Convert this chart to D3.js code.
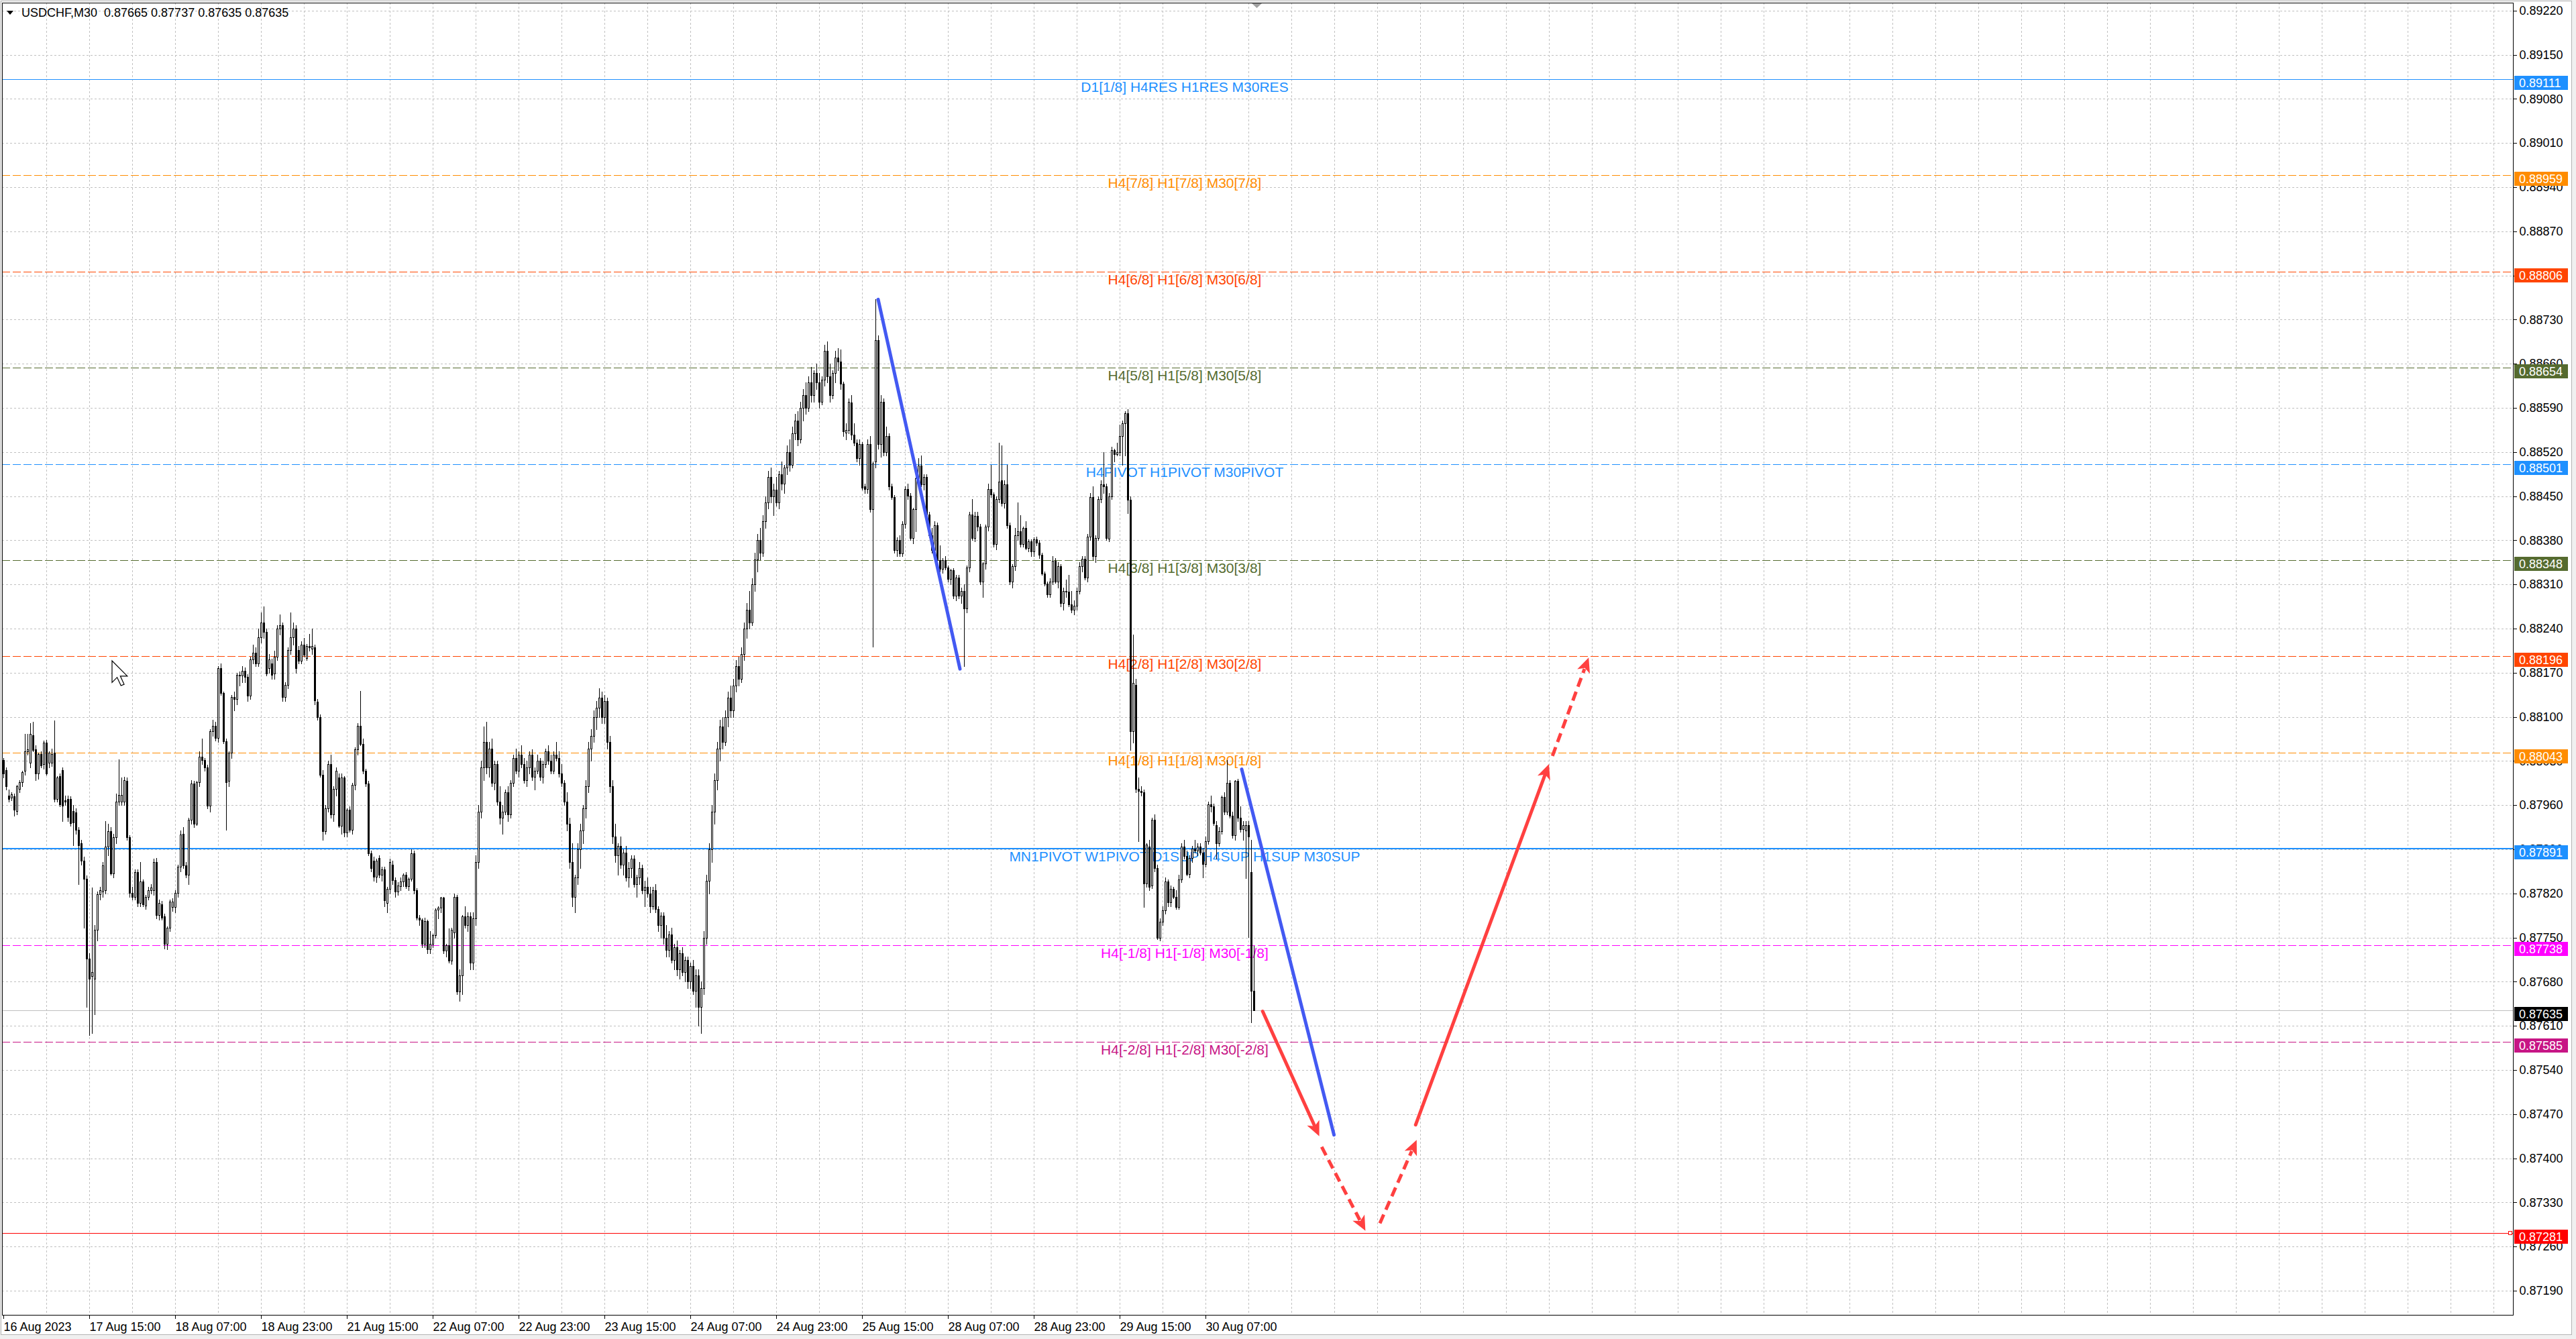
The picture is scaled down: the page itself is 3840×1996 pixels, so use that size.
<!DOCTYPE html>
<html>
<head>
<meta charset="utf-8">
<script src="https://cdn.jsdelivr.net/npm/d3@7/dist/d3.min.js"></script>
<style>
html,body{margin:0;padding:0;background:#fff;overflow:hidden;}
svg{display:block;}
text{font-family:"Liberation Sans",Arial,sans-serif;}
</style>
</head>
<body>
<svg id="chart" width="3840" height="1996"></svg>
<script>
// ================= DATA =================
const symbolName = "USDCHF,M30";
const lastOHLC = ["0.87665", "0.87737", "0.87635", "0.87635"];
const bidPrice = 0.87635;

const timeLabels = ["16 Aug 2023", "17 Aug 15:00", "18 Aug 07:00", "18 Aug 23:00", "21 Aug 15:00",
  "22 Aug 07:00", "22 Aug 23:00", "23 Aug 15:00", "24 Aug 07:00", "24 Aug 23:00",
  "25 Aug 15:00", "28 Aug 07:00", "28 Aug 23:00", "29 Aug 15:00", "30 Aug 07:00"];
const timeLabelBars = [0, 32, 64, 96, 128, 160, 192, 224, 256, 288, 320, 352, 384, 416, 448];

const priceTicks = [0.87190, 0.87260, 0.87330, 0.87400, 0.87470, 0.87540, 0.87610, 0.87680, 0.87750, 0.87820,
  0.87890, 0.87960, 0.88030, 0.88100, 0.88170, 0.88240, 0.88310, 0.88380, 0.88450, 0.88520,
  0.88590, 0.88660, 0.88730, 0.88800, 0.88870, 0.88940, 0.89010, 0.89080, 0.89150, 0.89220];

const levelPrices = [0.89111, 0.88959, 0.88806, 0.88654, 0.88501, 0.88348, 0.88196, 0.88043, 0.87891, 0.87738, 0.87585, 0.87281];
const levelTexts = ["D1[1/8] H4RES H1RES M30RES", "H4[7/8] H1[7/8] M30[7/8]", "H4[6/8] H1[6/8] M30[6/8]",
  "H4[5/8] H1[5/8] M30[5/8]", "H4PIVOT H1PIVOT M30PIVOT", "H4[3/8] H1[3/8] M30[3/8]",
  "H4[2/8] H1[2/8] M30[2/8]", "H4[1/8] H1[1/8] M30[1/8]", "MN1PIVOT W1PIVOT D1SUP H4SUP H1SUP M30SUP",
  "H4[-1/8] H1[-1/8] M30[-1/8]", "H4[-2/8] H1[-2/8] M30[-2/8]", ""];

// trend lines: [startBar, startPrice, endBar, endPrice]
const trendStartBars = [326.0, 461.5];
const trendStartPrices = [0.88762, 0.88017];
const trendEndBars = [356.5, 495.9];
const trendEndPrices = [0.88176, 0.87437];

// forecast arrows
const arrowStartBars = [469.3, 491.3, 513.0, 526.3, 577.3];
const arrowStartPrices = [0.87633, 0.87418, 0.87297, 0.87453, 0.88038];
const arrowEndBars = [490.4, 507.6, 526.7, 576.0, 590.8];
const arrowEndPrices = [0.87435, 0.87285, 0.87429, 0.88025, 0.88194];
const arrowDashed = [false, true, true, false, true];

// candles: [open, high, low, close] in points (0.00001) above priceBase; first bar 16 Aug 23:00, M30
const priceBase = 0.87;
const day16Aug = [[1031,1035,1004,1010],[1016,1020,985,990]];
const day17Aug = [
[975,985,965,970],[972,980,968,977],[974,978,943,953],[951,992,945,990],[986,1000,980,996],[996,1015,990,1012],[1014,1073,1008,1045],[1045,1073,1040,1049],
[1027,1090,1020,1073],[1071,1092,1045,1047],[1049,1055,1000,1010],[1010,1043,1002,1041],[1041,1045,1020,1023],[1025,1062,1018,1059],[1059,1063,1008,1010],[1027,1045,1020,1043],
[1027,1050,1022,1041],[1043,1094,966,970],[970,1006,965,1004],[1006,1010,958,961],[1016,1020,935,959],[968,975,960,966],[970,975,935,941],[970,974,927,931],
[951,960,896,933],[949,955,915,921],[921,925,835,896],[900,905,865,872],[872,878,766,843],[843,848,640,717],[717,725,595,685],[689,829,598,695],
[685,770,628,762],[762,823,745,819],[819,830,810,825],[823,870,815,864],[825,935,820,894],[894,930,880,919],[919,925,850,852],[852,915,845,909],
[909,978,900,966],[966,1033,960,976],[966,1004,960,976],[966,1005,960,1000],[998,1004,905,909],[909,912,815,821],[821,830,810,815],[815,858,810,854]];
const day18Aug = [
[854,858,800,805],[805,870,800,839],[839,842,800,803],[801,818,795,815],[815,830,810,825],[825,835,820,829],[825,875,818,870],[870,876,780,786],
[786,810,778,805],[803,808,778,782],[784,788,733,740],[740,768,731,766],[766,810,760,807],[799,812,792,807],[799,825,790,821],[821,866,815,862],
[862,920,855,913],[915,925,860,864],[864,870,845,850],[850,940,835,937],[937,1000,930,994],[994,998,925,930],[930,998,928,996],[996,1045,990,1037],
[1037,1065,1025,1031],[1031,1035,1015,1020],[1020,1024,955,959],[959,1080,950,1077],[1077,1095,1070,1086],[1086,1092,1062,1067],[1067,1180,1060,1177],[1177,1185,1135,1138],
[1138,1140,1058,1061],[1061,1065,921,996],[998,1045,990,1043],[1043,1135,1035,1132],[1132,1140,1110,1128],[1128,1170,1120,1167],[1167,1172,1150,1165],[1165,1180,1155,1173],
[1173,1178,1155,1163],[1163,1168,1125,1134],[1134,1195,1128,1191],[1191,1215,1185,1202],[1202,1210,1180,1185],[1185,1240,1180,1226],[1226,1265,1218,1250],[1250,1275,1225,1235]];
const day21Aug = [
[1235,1240,1165,1169],[1177,1200,1170,1191],[1185,1192,1160,1167],[1169,1205,1160,1195],[1195,1245,1190,1240],[1240,1262,1230,1245],[1245,1250,1125,1132],[1132,1155,1125,1151],
[1151,1210,1145,1206],[1206,1265,1200,1226],[1226,1250,1215,1240],[1240,1245,1170,1177],[1206,1212,1185,1189],[1189,1220,1185,1215],[1214,1225,1195,1198],[1193,1216,1190,1212],
[1212,1232,1205,1210],[1208,1240,1200,1212],[1210,1215,1120,1126],[1124,1128,1095,1100],[1100,1104,1005,1008],[1008,1016,905,919],[919,960,914,955],[955,1030,950,1025],
[1025,1040,940,945],[945,990,935,986],[986,1020,975,1014],[1004,1010,925,927],[927,1010,915,1004],[1004,1006,910,917],[917,955,910,953],[953,958,918,921],
[921,995,915,992],[992,1052,985,1049],[1049,1090,1040,1086],[1086,1141,1055,1057],[1057,1065,1010,1014],[1014,1018,990,994],[994,998,880,884],[884,888,855,860],
[872,878,840,846],[846,875,838,872],[876,880,845,850],[850,862,840,858],[858,862,800,809],[805,830,790,827],[827,875,820,870],[866,872,835,841]];
const day22Aug = [
[841,845,815,823],[823,838,818,833],[831,845,825,839],[839,852,832,850],[850,854,828,831],[831,845,825,843],[843,890,840,884],[884,888,820,825],
[825,828,778,782],[782,786,770,778],[778,780,735,740],[740,782,735,776],[776,778,725,731],[731,760,725,740],[740,756,735,754],[754,796,750,794],
[794,800,780,797],[797,815,790,813],[813,815,725,729],[729,740,720,738],[738,764,710,713],[713,765,708,762],[758,820,750,815],[815,818,660,664],
[664,700,650,690],[690,786,660,784],[784,800,765,770],[770,790,760,784],[784,790,700,710],[710,790,700,780],[780,880,770,870],[870,960,860,950],
[950,1030,940,1020],[1020,1085,1000,1060],[1060,1092,1010,1020],[1020,1060,1005,1050],[1050,1065,990,995],[995,1030,985,1025],[1025,1030,960,965],[965,990,930,940],
[940,960,915,950],[950,985,945,980],[980,990,935,945],[945,1000,940,995],[995,1040,990,1035],[1035,1050,1010,1015],[1015,1045,1005,1040],[1040,1055,1020,1025]];
const day23Aug = [
[1025,1035,995,1000],[1000,1030,990,1020],[1020,1045,1010,1040],[1040,1048,1000,1005],[1005,1020,985,1015],[1015,1040,1010,1030],[1030,1035,1000,1005],[1005,1030,995,1025],
[1025,1050,1020,1045],[1045,1055,1025,1030],[1030,1040,1010,1015],[1015,1045,1010,1040],[1040,1060,1030,1035],[1035,1045,1005,1010],[1010,1025,990,995],[995,1000,960,965],
[965,980,920,930],[930,940,860,870],[870,900,800,815],[815,850,790,845],[845,900,835,890],[890,930,860,920],[920,960,900,955],[955,1000,940,990],
[990,1060,980,1050],[1050,1080,1030,1070],[1070,1110,1060,1100],[1100,1125,1080,1115],[1115,1145,1100,1130],[1130,1140,1090,1100],[1100,1135,1090,1125],[1125,1130,1050,1060],
[1060,1070,980,990],[990,1000,900,910],[910,930,870,880],[880,900,850,895],[895,910,860,865],[865,890,850,885],[885,895,840,845],[845,870,830,860],
[860,880,845,875],[875,880,830,835],[835,850,815,845],[845,870,835,860],[860,865,820,825],[825,840,800,830],[830,845,815,820],[820,830,790,800]];
const day24Aug = [
[800,830,795,825],[825,835,790,795],[795,800,760,770],[770,790,750,785],[785,790,740,750],[750,770,720,730],[730,760,720,755],[755,765,710,715],
[715,740,700,735],[735,745,690,700],[700,730,685,725],[725,735,690,695],[695,720,680,715],[715,720,670,680],[680,710,670,705],[705,715,660,665],
[665,700,640,690],[690,700,610,640],[640,680,598,670],[670,760,660,750],[750,850,740,840],[840,900,820,890],[890,960,870,950],[950,1010,930,1000],
[1000,1060,985,1050],[1050,1095,1030,1085],[1085,1100,1050,1060],[1060,1110,1055,1100],[1100,1140,1085,1130],[1130,1150,1100,1110],[1110,1160,1100,1150],[1150,1190,1140,1180],
[1180,1195,1150,1160],[1160,1210,1155,1200],[1200,1250,1190,1240],[1240,1280,1225,1270],[1270,1300,1240,1250],[1250,1320,1245,1310],[1310,1360,1300,1350],[1350,1390,1330,1380],
[1380,1400,1350,1360],[1360,1420,1355,1410],[1410,1450,1400,1440],[1440,1490,1430,1480],[1480,1495,1440,1450],[1450,1470,1420,1460],[1460,1480,1435,1440],[1440,1490,1430,1485]];
const day25Aug = [
[1485,1505,1460,1470],[1470,1500,1455,1495],[1495,1530,1485,1520],[1520,1540,1490,1500],[1500,1560,1495,1550],[1550,1580,1540,1570],[1570,1585,1530,1540],[1540,1600,1535,1590],
[1590,1620,1570,1610],[1610,1630,1580,1590],[1590,1640,1585,1630],[1630,1655,1600,1610],[1610,1650,1600,1645],[1645,1660,1620,1630],[1630,1645,1590,1600],[1600,1640,1595,1635],
[1635,1690,1625,1680],[1680,1695,1630,1640],[1640,1660,1600,1610],[1610,1650,1605,1645],[1645,1680,1630,1670],[1670,1685,1650,1663],[1663,1683,1620,1628],[1628,1632,1545,1553],
[1551,1565,1540,1555],[1555,1605,1550,1600],[1598,1610,1540,1547],[1547,1565,1530,1535],[1535,1540,1505,1510],[1510,1540,1500,1533],[1533,1536,1460,1463],[1465,1470,1455,1461],
[1461,1540,1455,1533],[1533,1545,1425,1429],[1429,1505,1211,1502],[1505,1762,1495,1697],[1697,1705,1525,1533],[1533,1610,1512,1600],[1600,1605,1515,1520],[1520,1560,1515,1545],
[1545,1550,1460,1465],[1465,1470,1445,1449],[1449,1452,1360,1364],[1364,1385,1355,1380],[1380,1388,1355,1359],[1359,1410,1355,1406],[1406,1465,1400,1461],[1461,1470,1445,1451]];
const day28Aug = [
[1451,1455,1380,1384],[1384,1432,1375,1429],[1429,1480,1394,1478],[1478,1510,1470,1498],[1498,1515,1465,1469],[1469,1485,1460,1480],[1480,1485,1415,1421],[1421,1425,1385,1388],
[1388,1400,1360,1364],[1364,1410,1358,1404],[1404,1408,1345,1349],[1349,1372,1330,1335],[1335,1352,1328,1349],[1349,1355,1334,1337],[1337,1340,1315,1319],[1319,1335,1310,1333],
[1333,1336,1288,1292],[1292,1325,1285,1321],[1321,1325,1288,1292],[1292,1305,1280,1300],[1300,1310,1180,1272],[1272,1340,1265,1337],[1337,1425,1330,1421],[1421,1445,1380,1384],
[1384,1425,1378,1419],[1419,1425,1395,1402],[1402,1406,1310,1315],[1315,1345,1290,1343],[1343,1405,1335,1402],[1402,1470,1395,1461],[1461,1500,1448,1453],[1453,1456,1370,1374],
[1374,1450,1365,1445],[1445,1535,1440,1473],[1475,1530,1435,1439],[1439,1475,1432,1469],[1469,1500,1400,1404],[1404,1408,1310,1315],[1315,1342,1305,1339],[1339,1400,1333,1388],
[1388,1440,1380,1394],[1394,1420,1370,1374],[1374,1402,1370,1400],[1400,1410,1365,1368],[1368,1382,1362,1378],[1378,1382,1355,1362],[1362,1385,1355,1382],[1382,1386,1372,1376]];
const day29Aug = [
[1376,1380,1352,1357],[1357,1360,1325,1327],[1327,1330,1308,1311],[1311,1315,1290,1294],[1294,1320,1290,1315],[1315,1355,1310,1347],[1347,1352,1312,1315],[1315,1345,1305,1339],
[1339,1342,1275,1280],[1280,1305,1270,1300],[1300,1318,1290,1298],[1298,1325,1275,1278],[1278,1300,1265,1270],[1270,1285,1262,1276],[1276,1305,1270,1300],[1300,1345,1295,1339],
[1339,1355,1330,1351],[1351,1355,1318,1321],[1321,1390,1315,1386],[1386,1455,1380,1449],[1449,1465,1350,1355],[1355,1388,1345,1384],[1384,1450,1380,1445],[1445,1475,1440,1469],
[1469,1520,1455,1465],[1465,1470,1380,1384],[1383,1455,1378,1450],[1450,1528,1445,1523],[1523,1525,1505,1517],[1517,1535,1515,1520],[1520,1563,1515,1545],[1545,1570,1500,1566],
[1566,1585,1515,1581],[1581,1588,1423,1444],[1444,1450,1047,1077],[1077,1230,1059,1154],[1151,1160,980,986],[986,1004,903,983],[983,990,975,980],[980,985,799,836],
[836,900,830,897],[894,905,825,830],[833,940,828,937],[937,945,855,860],[860,865,747,750],[750,780,745,775],[775,800,770,793],[793,845,788,839]];
const day30Aug = [
[839,842,800,806],[806,833,800,827],[827,830,812,815],[815,825,795,799],[799,850,795,842],[842,900,838,894],[894,905,875,879],[879,888,848,851],
[851,880,845,876],[876,895,870,891],[891,905,885,888],[888,900,880,894],[894,900,882,885],[885,892,845,867],[867,910,862,903],[903,965,898,961],
[961,975,950,958],[958,962,928,931],[928,935,875,900],[900,925,895,919],[919,975,915,973],[973,980,945,950],[950,1032,945,995],[995,1000,940,943],
[943,950,908,912],[912,1000,905,998],[998,1002,935,940],[940,958,918,922],[922,935,905,928],[920,935,844,928],[928,935,751,910],[854,905,616,666],
[665,737,635,635]];

// ================= RENDER =================
const svg = d3.select("#chart");
const W = 3840, H = 1996;
const plotLeft = 3, plotTop = 4, plotRight = 3746, plotBottom = 1960;

const pt = 0.00001;
const candles = [].concat(day16Aug, day17Aug, day18Aug, day21Aug, day22Aug, day23Aug, day24Aug, day25Aug, day28Aug, day29Aug, day30Aug)
  .map((r, i) => ({ i, o: priceBase + r[0] * pt, h: priceBase + r[1] * pt, l: priceBase + r[2] * pt, c: priceBase + r[3] * pt }));

const x = d3.scaleLinear().domain([0, 935]).range([5, 3745]);
const y = d3.scaleLinear().domain([0.87190, 0.89220]).range([1924, 15.8]);

const levelColors = ["#1E90FF", "#FF8C00", "#FF4500", "#556B2F", "#1E90FF", "#556B2F", "#FF4500", "#FF8C00", "#1E90FF", "#FF00FF", "#C71585", "#FF0000"];
const levelDashed = [false, true, true, true, true, true, true, true, false, true, true, false];
const levelWidths = [1, 1, 1, 1, 1, 1, 1, 1, 2, 1, 1, 1];

// window background
svg.append("rect").attr("width", W).attr("height", H).attr("fill", "#f0f0f0");
svg.append("rect").attr("x", 1.5).attr("y", 1.5).attr("width", 3832).attr("height", 1988)
  .attr("fill", "#ffffff").attr("stroke", "#b4b4b4");

// grid
const grid = svg.append("g").attr("stroke", "#c0c0c0").attr("stroke-dasharray", "3,3").attr("shape-rendering", "crispEdges");
grid.selectAll("line.h").data(priceTicks).join("line")
  .attr("x1", plotLeft).attr("x2", plotRight)
  .attr("y1", d => Math.round(y(d)) + 0.5).attr("y2", d => Math.round(y(d)) + 0.5);
const vBars = d3.range(16, 935, 16).filter(b => x(b) < plotRight - 2);
grid.selectAll("line.v").data(vBars).join("line")
  .attr("x1", d => Math.round(x(d)) + 0.5).attr("x2", d => Math.round(x(d)) + 0.5)
  .attr("y1", plotTop).attr("y2", plotBottom);

// level lines
const lv = svg.append("g").attr("shape-rendering", "crispEdges");
levelPrices.forEach((p, k) => {
  const yy = levelWidths[k] === 2 ? Math.round(y(p)) : Math.round(y(p)) + 0.5;
  lv.append("line").attr("x1", plotLeft).attr("x2", plotRight).attr("y1", yy).attr("y2", yy)
    .attr("stroke", levelColors[k]).attr("stroke-width", levelWidths[k])
    .attr("stroke-dasharray", levelDashed[k] ? "12,4" : null);
});
// bid line
lv.append("line").attr("x1", plotLeft).attr("x2", plotRight)
  .attr("y1", Math.round(y(bidPrice)) + 0.5).attr("y2", Math.round(y(bidPrice)) + 0.5)
  .attr("stroke", "#c0c0c0").attr("stroke-width", 1);

// level texts
const labelBar = 440.25;
const lt = svg.append("g").attr("font-size", 21).attr("text-anchor", "middle");
levelPrices.forEach((p, k) => {
  if (!levelTexts[k]) return;
  lt.append("text").attr("x", x(labelBar)).attr("y", y(p) + 19).attr("fill", levelColors[k]).text(levelTexts[k]);
});

// candles
const cg = svg.append("g").attr("shape-rendering", "crispEdges");
cg.selectAll("line.wick").data(candles).join("line")
  .attr("x1", d => Math.round(x(d.i)) + 0.5).attr("x2", d => Math.round(x(d.i)) + 0.5)
  .attr("y1", d => Math.round(y(d.h))).attr("y2", d => Math.round(y(d.l)) + 1)
  .attr("stroke", "#000");
candles.forEach(d => {
  const cx = Math.round(x(d.i));
  const top = Math.round(y(Math.max(d.o, d.c)));
  const bot = Math.round(y(Math.min(d.o, d.c)));
  if (d.c < d.o) {
    cg.append("rect").attr("x", cx - 1).attr("y", top).attr("width", 3).attr("height", Math.max(1, bot - top + 1)).attr("fill", "#000");
  } else if (d.c > d.o && bot - top >= 2) {
    cg.append("rect").attr("x", cx - 0.5).attr("y", top + 0.5).attr("width", 2).attr("height", bot - top)
      .attr("fill", "#fff").attr("stroke", "#000");
  } else {
    cg.append("line").attr("x1", cx - 1).attr("x2", cx + 2).attr("y1", top + 0.5).attr("y2", top + 0.5).attr("stroke", "#000");
  }
});

// trend lines
const tg = svg.append("g");
trendStartBars.forEach((b, k) => {
  tg.append("line")
    .attr("x1", x(b)).attr("y1", y(trendStartPrices[k]))
    .attr("x2", x(trendEndBars[k])).attr("y2", y(trendEndPrices[k]))
    .attr("stroke", "#4359F2").attr("stroke-width", 5).attr("stroke-linecap", "round");
});

// forecast arrows
const ag = svg.append("g");
arrowStartBars.forEach((b, k) => {
  const x1 = x(b), y1 = y(arrowStartPrices[k]), x2 = x(arrowEndBars[k]), y2 = y(arrowEndPrices[k]);
  const len = Math.hypot(x2 - x1, y2 - y1), ux = (x2 - x1) / len, uy = (y2 - y1) / len;
  const headL = 22, headW = 10;
  const bx = x2 - ux * headL, by = y2 - uy * headL;
  ag.append("line").attr("x1", x1).attr("y1", y1).attr("x2", bx + ux * 4).attr("y2", by + uy * 4)
    .attr("stroke", "#FF4040").attr("stroke-width", 5)
    .attr("stroke-linecap", arrowDashed[k] ? "butt" : "round")
    .attr("stroke-dasharray", arrowDashed[k] ? "14,8" : null);
  const nx = x2 - ux * headL * 0.75, ny = y2 - uy * headL * 0.75;
  ag.append("polygon")
    .attr("points", [[x2, y2], [bx - uy * headW, by + ux * headW], [nx, ny], [bx + uy * headW, by - ux * headW]].map(p => p.join(",")).join(" "))
    .attr("fill", "#FF4040");
});

// price axis (right)
const yAxis = d3.axisRight(y).tickValues(priceTicks).tickFormat(d3.format(".5f")).tickSize(5).tickPadding(4);
const ya = svg.append("g").attr("transform", `translate(${plotRight + 0.5},0)`).call(yAxis);
ya.select(".domain").remove();
ya.attr("font-size", 18).attr("font-family", null);
ya.selectAll("text").attr("fill", "#000");
ya.selectAll("line").attr("stroke", "#000").attr("shape-rendering", "crispEdges");

// time axis (bottom)
const xAxis = d3.axisBottom(x).tickValues(timeLabelBars).tickFormat((d, i) => timeLabels[i]).tickSize(5).tickPadding(6);
const xa = svg.append("g").attr("transform", `translate(0,${plotBottom + 0.5})`).call(xAxis);
xa.select(".domain").remove();
xa.attr("font-size", 18).attr("font-family", null);
xa.selectAll("text").attr("text-anchor", "start").attr("x", 0).attr("fill", "#000");
xa.selectAll("line").attr("stroke", "#000").attr("shape-rendering", "crispEdges");

// price boxes on the axis (drawn just below their line, as in the terminal)
const boxPrices = levelPrices.concat([bidPrice]);
const boxColors = levelColors.concat(["#000000"]);
const bg = svg.append("g").attr("font-size", 18);
boxPrices.forEach((p, k) => {
  const yy = Math.round(y(p));
  bg.append("rect").attr("x", plotRight + 2).attr("y", yy - 5).attr("width", 80).attr("height", 21).attr("fill", boxColors[k]);
  bg.append("text").attr("x", plotRight + 9).attr("y", yy + 5.5).attr("dy", "0.35em").attr("fill", "#fff").text(d3.format(".5f")(p));
});
// handle square on the red line
svg.append("rect").attr("x", plotRight - 6.5).attr("y", Math.round(y(levelPrices[11])) - 2.5).attr("width", 5).attr("height", 5)
  .attr("fill", "#fff").attr("stroke", "#FF0000");

// plot frame
svg.append("rect").attr("x", plotLeft + 0.5).attr("y", plotTop + 0.5)
  .attr("width", plotRight - plotLeft).attr("height", plotBottom - plotTop)
  .attr("fill", "none").attr("stroke", "#000").attr("shape-rendering", "crispEdges");

// shift marker at top
svg.append("polygon").attr("points", "1866,5 1881,5 1873.5,12").attr("fill", "#a0a0a0");

// title
svg.append("polygon").attr("points", "10,16 20,16 15,22").attr("fill", "#000");
svg.append("text").attr("x", 32).attr("y", 25).attr("font-size", 18).attr("fill", "#000")
  .attr("xml:space", "preserve").text(symbolName + "  " + lastOHLC.join(" "));

// mouse cursor
const s = 1.9;
const cur = [[0,0],[0,17],[4,13],[7,19.5],[9.5,18.5],[6.5,12],[12,12]];
svg.append("polygon").attr("points", cur.map(p => [167 + p[0] * s, 985 + p[1] * s].join(",")).join(" "))
  .attr("fill", "#fff").attr("stroke", "#000").attr("stroke-width", 1.2);
</script>
</body>
</html>
